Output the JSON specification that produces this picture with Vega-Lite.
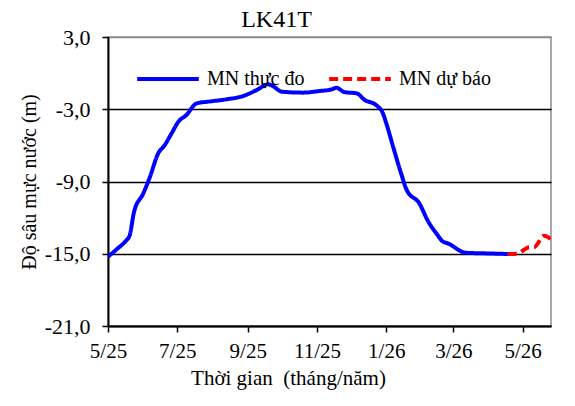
{
  "$schema": "https://vega.github.io/schema/vega-lite/v6.json",
  "width": 443,
  "height": 289,
  "autosize": {"type": "none"},
  "padding": {"left": 108, "top": 37, "right": 24, "bottom": 80},
  "background": "white",
  "title": {
    "text": "LK41T",
    "font": "Liberation Serif",
    "fontSize": 24,
    "fontWeight": "normal",
    "color": "black",
    "anchor": "middle",
    "baseline": "alphabetic",
    "dx": -53,
    "offset": -25
  },
  "data": {
    "values": [
      {"date": "2025-05-01", "depth": -15.25, "series": "MN thực đo"},
      {"date": "2025-05-09", "depth": -14.6, "series": "MN thực đo"},
      {"date": "2025-05-17", "depth": -13.9, "series": "MN thực đo"},
      {"date": "2025-05-20", "depth": -13.5, "series": "MN thực đo"},
      {"date": "2025-05-24", "depth": -11.5, "series": "MN thực đo"},
      {"date": "2025-06-01", "depth": -10.0, "series": "MN thực đo"},
      {"date": "2025-06-07", "depth": -8.6, "series": "MN thực đo"},
      {"date": "2025-06-14", "depth": -6.7, "series": "MN thực đo"},
      {"date": "2025-06-20", "depth": -5.97, "series": "MN thực đo"},
      {"date": "2025-06-26", "depth": -5.0, "series": "MN thực đo"},
      {"date": "2025-07-02", "depth": -4.03, "series": "MN thực đo"},
      {"date": "2025-07-09", "depth": -3.48, "series": "MN thực đo"},
      {"date": "2025-07-18", "depth": -2.51, "series": "MN thực đo"},
      {"date": "2025-07-30", "depth": -2.35, "series": "MN thực đo"},
      {"date": "2025-08-13", "depth": -2.18, "series": "MN thực đo"},
      {"date": "2025-08-28", "depth": -1.9, "series": "MN thực đo"},
      {"date": "2025-09-09", "depth": -1.4, "series": "MN thực đo"},
      {"date": "2025-09-19", "depth": -0.93, "series": "MN thực đo"},
      {"date": "2025-09-23", "depth": -1.07, "series": "MN thực đo"},
      {"date": "2025-10-01", "depth": -1.54, "series": "MN thực đo"},
      {"date": "2025-10-20", "depth": -1.62, "series": "MN thực đo"},
      {"date": "2025-11-03", "depth": -1.49, "series": "MN thực đo"},
      {"date": "2025-11-14", "depth": -1.35, "series": "MN thực đo"},
      {"date": "2025-11-18", "depth": -1.21, "series": "MN thực đo"},
      {"date": "2025-11-25", "depth": -1.57, "series": "MN thực đo"},
      {"date": "2025-12-06", "depth": -1.68, "series": "MN thực đo"},
      {"date": "2025-12-13", "depth": -2.23, "series": "MN thực đo"},
      {"date": "2025-12-23", "depth": -2.65, "series": "MN thực đo"},
      {"date": "2025-12-29", "depth": -3.34, "series": "MN thực đo"},
      {"date": "2026-01-01", "depth": -4.17, "series": "MN thực đo"},
      {"date": "2026-01-07", "depth": -6.11, "series": "MN thực đo"},
      {"date": "2026-01-14", "depth": -8.32, "series": "MN thực đo"},
      {"date": "2026-01-19", "depth": -9.71, "series": "MN thực đo"},
      {"date": "2026-01-30", "depth": -10.81, "series": "MN thực đo"},
      {"date": "2026-02-07", "depth": -12.34, "series": "MN thực đo"},
      {"date": "2026-02-14", "depth": -13.3, "series": "MN thực đo"},
      {"date": "2026-02-20", "depth": -14.0, "series": "MN thực đo"},
      {"date": "2026-02-24", "depth": -14.13, "series": "MN thực đo"},
      {"date": "2026-03-12", "depth": -14.92, "series": "MN thực đo"},
      {"date": "2026-03-30", "depth": -14.97, "series": "MN thực đo"},
      {"date": "2026-04-18", "depth": -15.02, "series": "MN thực đo"},
      {"date": "2026-04-18", "depth": -15.02, "series": "MN dự báo"},
      {"date": "2026-04-26", "depth": -15.0, "series": "MN dự báo"},
      {"date": "2026-05-07", "depth": -14.45, "series": "MN dự báo"},
      {"date": "2026-05-11", "depth": -14.45, "series": "MN dự báo"},
      {"date": "2026-05-20", "depth": -13.5, "series": "MN dự báo"},
      {"date": "2026-05-26", "depth": -13.8, "series": "MN dự báo"}
    ]
  },
  "mark": {"type": "line", "strokeWidth": 4, "interpolate": "monotone", "clip": true},
  "encoding": {
    "x": {
      "field": "date",
      "type": "temporal",
      "scale": {
        "type": "utc",
        "domain": [
          {"year": 2025, "month": 5, "date": 1, "utc": true},
          {"year": 2026, "month": 5, "date": 26, "utc": true}
        ],
        "nice": false
      },
      "axis": {
        "title": "Thời gian\u00a0 (tháng/năm)",
        "values": [
          {"year": 2025, "month": 5, "date": 1, "utc": true},
          {"year": 2025, "month": 7, "date": 1, "utc": true},
          {"year": 2025, "month": 9, "date": 1, "utc": true},
          {"year": 2025, "month": 11, "date": 1, "utc": true},
          {"year": 2026, "month": 1, "date": 1, "utc": true},
          {"year": 2026, "month": 3, "date": 1, "utc": true},
          {"year": 2026, "month": 5, "date": 1, "utc": true}
        ],
        "labelExpr": "utcFormat(datum.value, '%-m/%y')",
        "grid": false,
        "domainColor": "black",
        "domainWidth": 2,
        "tickColor": "black",
        "tickWidth": 1.5,
        "tickSize": 6,
        "labelPadding": 8,
        "labelFlush": false,
        "labelOverlap": false,
        "titlePadding": 6,
        "titleX": 180,
        "titleFontSize": 21
      }
    },
    "y": {
      "field": "depth",
      "type": "quantitative",
      "scale": {"domain": [-21, 3], "nice": false, "zero": false},
      "axis": {
        "title": "Độ sâu mực nước (m)",
        "values": [3, -3, -9, -15, -21],
        "labelExpr": "replace(replace(format(datum.value, '.1f'), '.', ','), '\u2212', '-')",
        "labelFontSize": 22,
        "grid": true,
        "gridColor": {"condition": {"test": "datum.value === 3", "value": "#8c8c8c"}, "value": "black"},
        "gridWidth": 1.6,
        "domainColor": "black",
        "domainWidth": 2,
        "tickColor": "black",
        "tickWidth": 1.5,
        "tickSize": 6,
        "labelPadding": 12,
        "titlePadding": 5
      }
    },
    "color": {
      "field": "series",
      "type": "nominal",
      "sort": ["MN thực đo", "MN dự báo"],
      "scale": {"domain": ["MN thực đo", "MN dự báo"], "range": ["#0000ff", "#ff0000"]},
      "legend": {
        "title": null,
        "orient": "none",
        "legendX": 27,
        "legendY": 9,
        "direction": "horizontal",
        "columns": 2,
        "symbolType": "stroke",
        "symbolSize": 3800,
        "symbolStrokeWidth": 4,
        "labelOffset": 6,
        "columnPadding": 16,
        "padding": 0
      }
    },
    "strokeDash": {
      "field": "series",
      "type": "nominal",
      "sort": ["MN thực đo", "MN dự báo"],
      "scale": {"domain": ["MN thực đo", "MN dự báo"], "range": [[1, 0], [9, 5]]},
      "legend": null
    }
  },
  "config": {
    "font": "Liberation Serif",
    "view": {"stroke": "#8c8c8c", "strokeWidth": 1.5},
    "axis": {
      "labelFont": "Liberation Serif",
      "labelFontSize": 21,
      "labelColor": "black",
      "titleFont": "Liberation Serif",
      "titleFontSize": 20,
      "titleFontWeight": "normal",
      "titleColor": "black"
    },
    "legend": {
      "labelFont": "Liberation Serif",
      "labelFontSize": 20,
      "labelColor": "black",
      "labelLimit": 300
    }
  }
}
